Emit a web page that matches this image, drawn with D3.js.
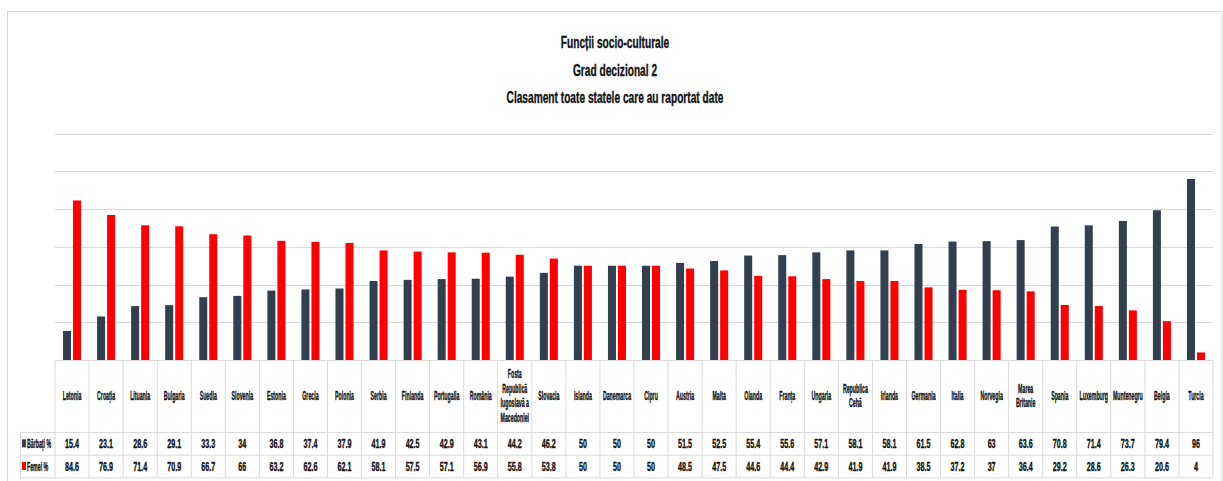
<!DOCTYPE html>
<html>
<head>
<meta charset="utf-8">
<script src="https://cdn.jsdelivr.net/npm/d3@7"></script>
<style>
  body { margin: 0; background: #fff; }
  text { font-family: "Liberation Sans", Arial, sans-serif; font-weight: bold; fill: #111; stroke: #111; stroke-width: 0.35; }
</style>
</head>
<body>
<div id="chart"></div>
<script>
const categories = ["Letonia", "Croația", "Lituania", "Bulgaria", "Suedia", "Slovenia", "Estonia", "Grecia",
  "Polonia", "Serbia", "Finlanda", "Portugalia", "România", "Fosta Republică Iugoslavă a Macedoniei",
  "Slovacia", "Islanda", "Danemarca", "Cipru", "Austria", "Malta", "Olanda", "Franța", "Ungaria",
  "Republica Cehă", "Irlanda", "Germania", "Italia", "Norvegia", "Marea Britanie", "Spania",
  "Luxemburg", "Muntenegru", "Belgia", "Turcia"];
const barbati = [15.4, 23.1, 28.6, 29.1, 33.3, 34, 36.8, 37.4, 37.9, 41.9, 42.5, 42.9, 43.1, 44.2, 46.2,
  50, 50, 50, 51.5, 52.5, 55.4, 55.6, 57.1, 58.1, 58.1, 61.5, 62.8, 63, 63.6, 70.8, 71.4, 73.7, 79.4, 96];
const femei = [84.6, 76.9, 71.4, 70.9, 66.7, 66, 63.2, 62.6, 62.1, 58.1, 57.5, 57.1, 56.9, 55.8, 53.8,
  50, 50, 50, 48.5, 47.5, 44.6, 44.4, 42.9, 41.9, 41.9, 38.5, 37.2, 37, 36.4, 29.2, 28.6, 26.3, 20.6, 4];
const seriesNames = ["Bărbați %", "Femei %"];
const seriesColors = ["#323f4f", "#ff0000"];
const yTicks = [0, 20, 40, 60, 80, 100, 120];
const titleLines = ["Funcții socio-culturale", "Grad decizional 2", "Clasament toate statele care au raportat date"];

const W = 1223, H = 481;
const plotLeft = 55, plotRight = 1213, base = 360, plotTop = 133.7;
const headerH = 72, rowH = 22.7;

const svg = d3.select("#chart").append("svg")
  .attr("width", W).attr("height", H);

// outer chart border
svg.append("rect")
  .attr("x", 7.5).attr("y", 11.5).attr("width", 1214.5).attr("height", 475)
  .attr("fill", "none").attr("stroke", "#d9d9d9");

// the original font is very narrow: measure a sample and squeeze to its width
const probe = svg.append("text");
function natural(t, size) {
  probe.attr("font-size", size).text(t);
  return probe.node().getComputedTextLength();
}
const titleK = 217 / natural(titleLines[2], 17);
const labelK = 18.6 / natural("Letonia", 12);
const valueK = 14 / natural("15.4", 12);

function squeezed(g, x, y, k) {
  return g.append("text")
    .attr("transform", "translate(" + x + "," + y + ") scale(" + k + ",1)")
    .attr("text-anchor", "middle");
}

// title
titleLines.forEach(function(t, i) {
  squeezed(svg, 615, 48 + i * 27.5, titleK).attr("font-size", 17).text(t);
});

let x0 = d3.scaleBand().domain(categories).range([plotLeft, plotRight]);
let x1 = d3.scaleBand().domain(seriesNames).range([0, x0.bandwidth()])
  .paddingInner(0.2).paddingOuter(0.8);
let y = d3.scaleLinear().domain([0, 120]).range([base, plotTop]);

// gridlines
svg.append("g").selectAll("line")
  .data(yTicks.slice(1))
  .enter().append("line")
    .attr("x1", plotLeft).attr("x2", plotRight)
    .attr("y1", function(d) { return Math.round(y(d)) + 0.5; })
    .attr("y2", function(d) { return Math.round(y(d)) + 0.5; })
    .attr("stroke", "#d9d9d9").attr("stroke-width", 1.2);

// bars
const series = [barbati, femei];
series.forEach(function(vals, s) {
  svg.append("g").selectAll("rect")
    .data(categories)
    .enter().append("rect")
      .attr("x", function(d) { return x0(d) + x1(seriesNames[s]); })
      .attr("y", function(d, i) { return y(vals[i]); })
      .attr("width", x1.bandwidth())
      .attr("height", function(d, i) { return base - y(vals[i]); })
      .attr("fill", seriesColors[s]);
});

// data table
const grid = svg.append("g").attr("stroke", "#d9d9d9").attr("stroke-width", 1);
const rowTops = [base, base + headerH, base + headerH + rowH, base + headerH + 2 * rowH];
rowTops.forEach(function(ry, i) {
  grid.append("line")
    .attr("x1", i === 0 ? plotLeft : 20).attr("x2", plotRight)
    .attr("y1", ry + 0.5).attr("y2", ry + 0.5);
});
categories.concat(["end"]).forEach(function(c, i) {
  const cx = i < categories.length ? x0(c) : plotRight;
  grid.append("line")
    .attr("x1", cx).attr("x2", cx)
    .attr("y1", base).attr("y2", rowTops[3]);
});
grid.append("line").attr("x1", 20.5).attr("x2", 20.5)
  .attr("y1", rowTops[1]).attr("y2", rowTops[3]);

// category labels, wrapped to the column width
function wrap(name) {
  const words = name.split(" ");
  let lines = [], cur = words[0];
  for (let i = 1; i < words.length; i++) {
    if (natural(cur + " " + words[i], 12) * labelK > 32) { lines.push(cur); cur = words[i]; }
    else cur = cur + " " + words[i];
  }
  lines.push(cur);
  return lines;
}
categories.forEach(function(c) {
  const lines = wrap(c);
  const cx = x0(c) + x0.bandwidth() / 2;
  const lh = 14.5;
  const y0 = base + headerH / 2 + 4 - (lines.length - 1) * lh / 2;
  lines.forEach(function(l, j) {
    squeezed(svg, cx, y0 + j * lh, labelK).attr("font-size", 12).text(l);
  });
});
probe.remove();

// values rows with legend keys
series.forEach(function(vals, s) {
  const ry = rowTops[1 + s] + rowH / 2 + 4.5;
  categories.forEach(function(c, i) {
    squeezed(svg, x0(c) + x0.bandwidth() / 2, ry, valueK).attr("font-size", 12).text(vals[i]);
  });
  svg.append("rect")
    .attr("x", 22).attr("y", ry - 8.5).attr("width", 4).attr("height", 8)
    .attr("fill", seriesColors[s]);
  squeezed(svg, 27, ry, labelK).attr("text-anchor", "start").attr("font-size", 12).text(seriesNames[s]);
});
</script>
</body>
</html>
